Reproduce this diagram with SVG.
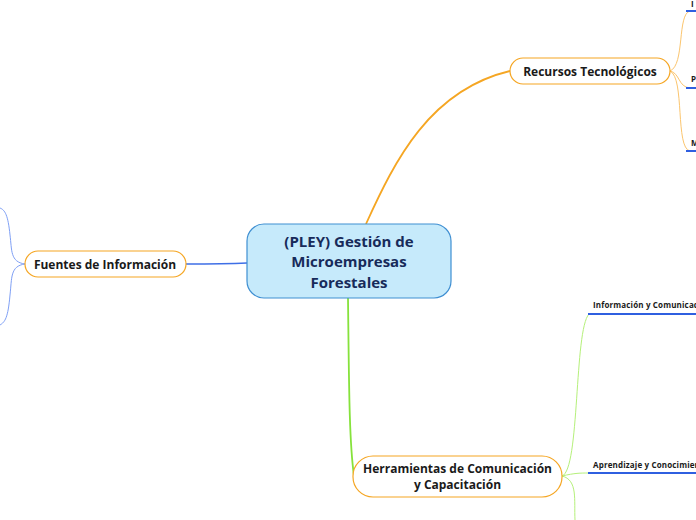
<svg xmlns="http://www.w3.org/2000/svg" width="696" height="520" viewBox="0 0 696 520">
<style>
.t{font-family:"Open Sans","Noto Sans","Liberation Sans",sans-serif;font-weight:bold;fill:#1a1a1a}
.main{fill:#c6eafb;stroke:#3f8fd2;stroke-width:1.2}
.sub{fill:#ffffff;stroke:#f5a623;stroke-width:1.2}
.ul{stroke:#2f5fe0;stroke-width:2;fill:none}
.fine{fill:none;stroke-width:1}
.s{font-size:8px;letter-spacing:0.15px}
</style>
<rect width="696" height="520" fill="#ffffff"/>
<g id="connectors">
<path d="M366,224 C395,160 430,90 510,71" fill="none" stroke="#f5a623" stroke-width="1.8"/>
<path d="M247,263 C225,264 205,264 186,264" fill="none" stroke="#3f6fe6" stroke-width="1.5"/>
<path d="M348,298 C349,380 349,440 354,476" fill="none" stroke="#86e23c" stroke-width="1.8"/>
<path class="fine" stroke="#7fa0f5" d="M25,264 C10,262 12,250 10,235 C8,215 5,210 0,208"/>
<path class="fine" stroke="#7fa0f5" d="M25,264 C10,266 12,278 10,295 C8,318 5,322 0,325"/>
<path class="fine" stroke="#fbc56e" d="M670,71 C685,65 677,14 690,11"/>
<path class="fine" stroke="#fbc56e" d="M670,71 C680,73 678,87 690,88"/>
<path class="fine" stroke="#fbc56e" d="M670,71 C685,78 675,148 690,151"/>
<path class="fine" stroke="#b5f07a" d="M562,476 C580,470 574,330 589,314"/>
<path class="fine" stroke="#b5f07a" d="M562,476 C575,473 580,473 589,473"/>
<path class="fine" stroke="#b5f07a" d="M562,476 C578,480 574,500 575,520"/>
<path class="ul" d="M686,11 H696 M686,88 H696 M686,151 H696"/>
<path class="ul" d="M588,314 H696 M588,473 H696"/>
</g>
<g id="central">
<rect class="main" x="247" y="224" width="204" height="74" rx="17"/>
<text class="t" x="349" y="247" font-size="15" text-anchor="middle" style="fill:#172a5a">(PLEY) Gestión de</text>
<text class="t" x="349" y="267" font-size="15" text-anchor="middle" style="fill:#172a5a">Microempresas</text>
<text class="t" x="349" y="288" font-size="15" text-anchor="middle" style="fill:#172a5a">Forestales</text>
</g>
<g id="fuentes">
<rect class="sub" x="25" y="251" width="161" height="26" rx="13"/>
<text class="t" x="105" y="268.5" font-size="12" text-anchor="middle">Fuentes de Información</text>
</g>
<g id="recursos">
<rect class="sub" x="510" y="58" width="160" height="26" rx="13"/>
<text class="t" x="590" y="75.5" font-size="12" text-anchor="middle">Recursos Tecnológicos</text>
</g>
<g id="herramientas">
<rect class="sub" x="353" y="456" width="209" height="41" rx="20"/>
<text class="t" x="457.5" y="473" font-size="12" text-anchor="middle">Herramientas de Comunicación</text>
<text class="t" x="457.5" y="489" font-size="12" text-anchor="middle">y Capacitación</text>
</g>
<g id="rec-1"><text class="t s" x="691" y="7">I</text></g>
<g id="rec-2"><text class="t s" x="691" y="82">P</text></g>
<g id="rec-3"><text class="t s" x="691" y="146">M</text></g>
<g id="her-1"><text class="t s" x="593" y="308">Información y Comunicación</text></g>
<g id="her-2"><text class="t s" x="593" y="468">Aprendizaje y Conocimiento</text></g>
</svg>
